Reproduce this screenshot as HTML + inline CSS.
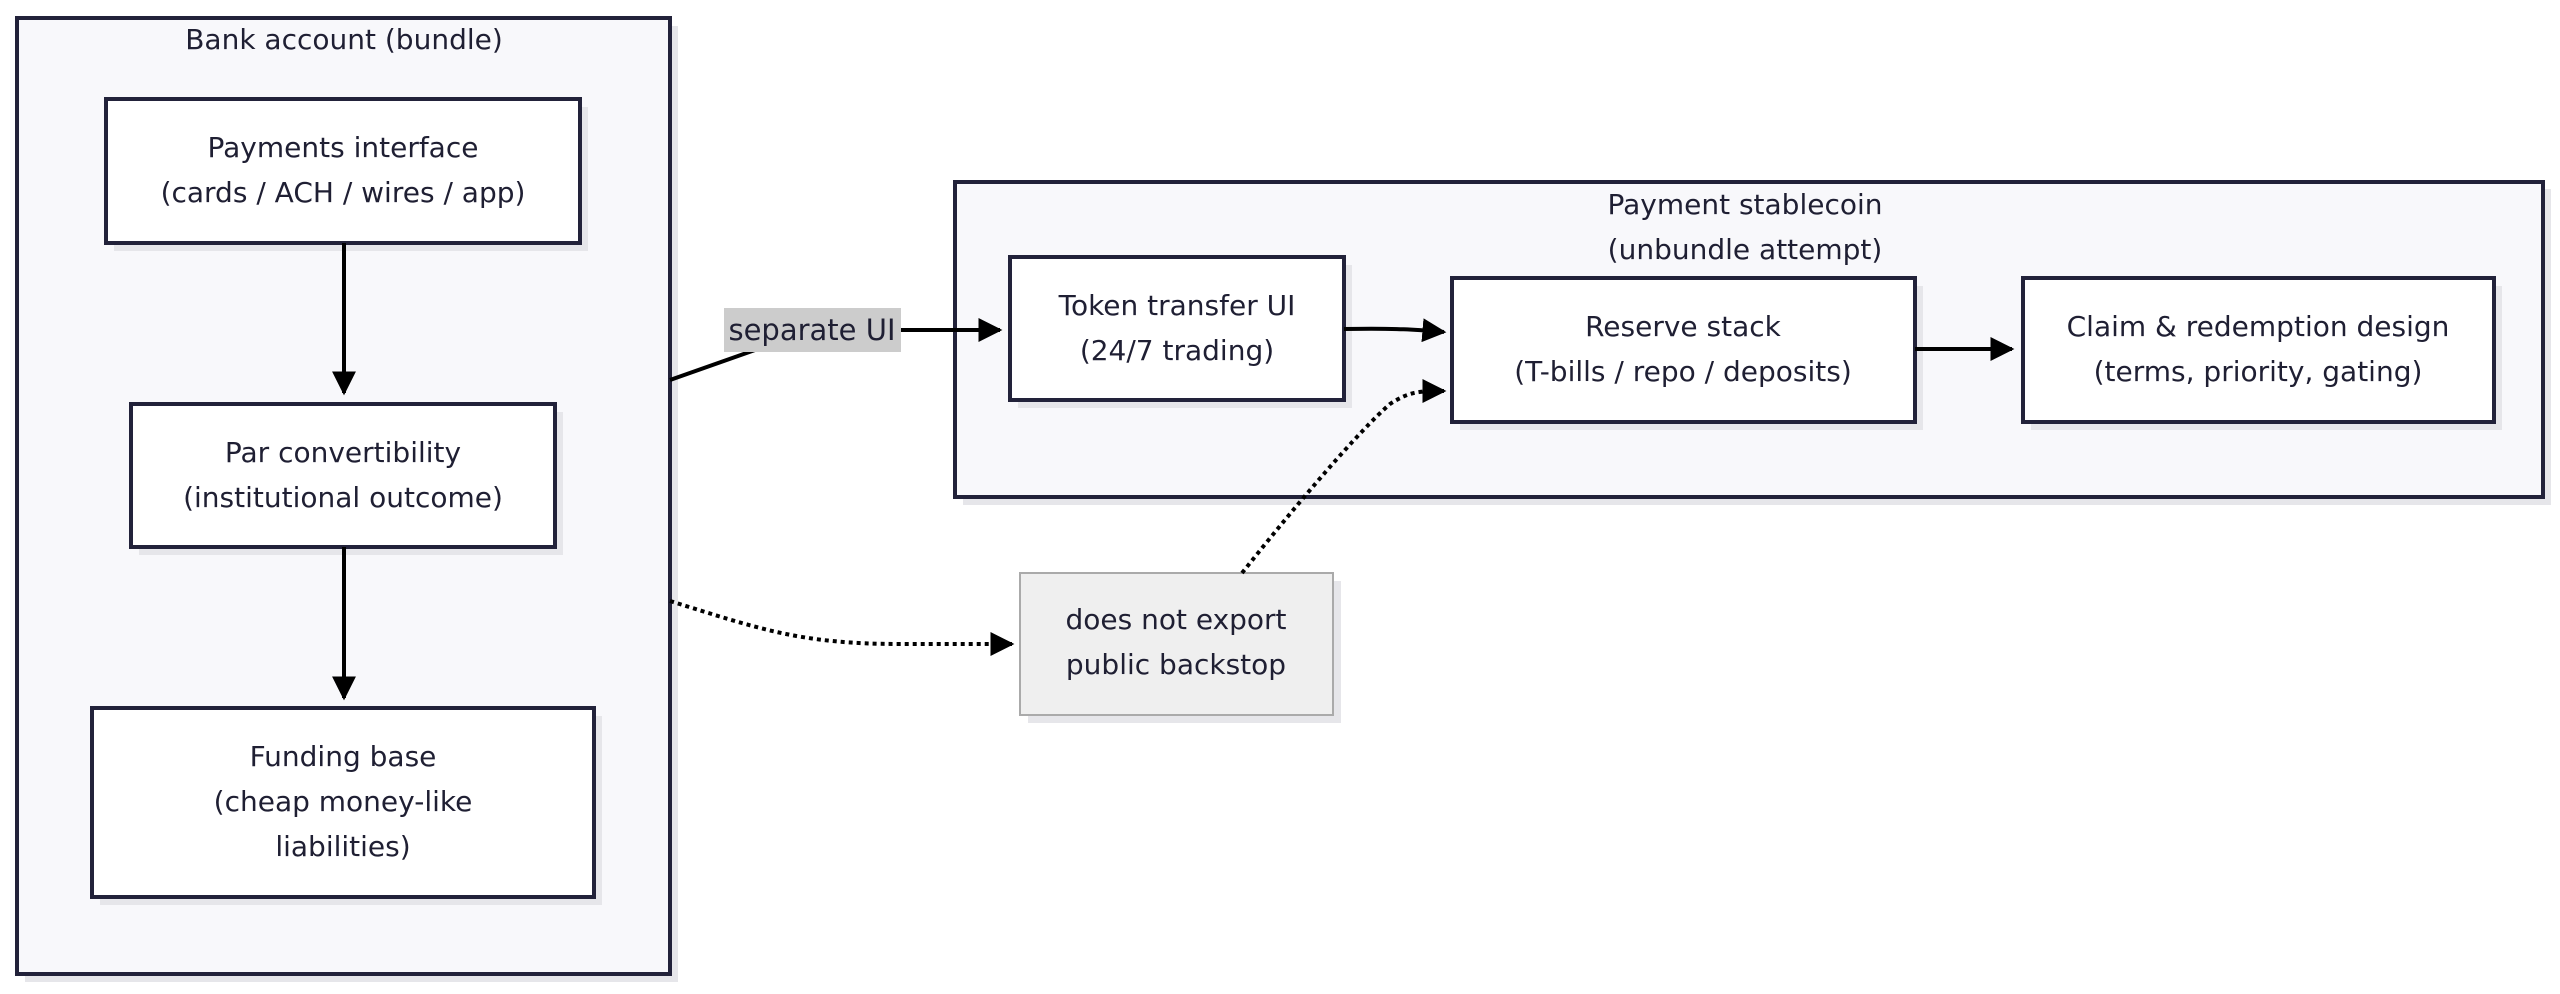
<!DOCTYPE html>
<html><head><meta charset="utf-8"><style>
html,body{margin:0;padding:0;background:#fff;}
svg{display:block;}
text{font-family:"DejaVu Sans","Liberation Sans",sans-serif;font-size:28px;fill:#1f1f33;text-anchor:middle;}
</style></head><body>
<svg width="2560" height="994" viewBox="0 0 2560 994" xmlns="http://www.w3.org/2000/svg">
<defs>
<marker id="a2" viewBox="0 0 10 10" refX="9" refY="5" markerWidth="24" markerHeight="24" orient="auto" markerUnits="userSpaceOnUse"><path d="M0,0 L10,5 L0,10 z" fill="#000"/></marker>
</defs>
<g fill="#e6e6ea">
<rect x="25" y="26" width="653" height="956"/>
<rect x="963" y="189" width="1588" height="316"/>
</g>
<rect x="17" y="18" width="653" height="956" fill="#f8f8fb" stroke="#22223a" stroke-width="4"/>
<rect x="955" y="182" width="1588" height="315" fill="#f8f8fb" stroke="#22223a" stroke-width="4"/>
<text x="344" y="49">Bank account (bundle)</text>
<text x="1745" y="214">Payment stablecoin</text>
<text x="1745" y="259">(unbundle attempt)</text>
<g fill="#e6e6ea">
<rect x="114" y="107" width="474" height="144"/>
<rect x="139" y="412" width="424" height="143"/>
<rect x="100" y="716" width="502" height="189"/>
<rect x="1018" y="265" width="334" height="143"/>
<rect x="1460" y="286" width="463" height="144"/>
<rect x="2031" y="286" width="471" height="144"/>
<rect x="1028" y="581" width="313" height="142"/>
</g>
<g fill="#fff" stroke="#22223a" stroke-width="4">
<rect x="106" y="99" width="474" height="144"/>
<rect x="131" y="404" width="424" height="143"/>
<rect x="92" y="708" width="502" height="189"/>
<rect x="1010" y="257" width="334" height="143"/>
<rect x="1452" y="278" width="463" height="144"/>
<rect x="2023" y="278" width="471" height="144"/>
</g>
<rect x="1020" y="573" width="313" height="142" fill="#efefef" stroke="#aaaaaa" stroke-width="2"/>
<text x="343" y="157">Payments interface</text>
<text x="343" y="202">(cards / ACH / wires / app)</text>
<text x="343" y="462">Par convertibility</text>
<text x="343" y="507">(institutional outcome)</text>
<text x="343" y="766">Funding base</text>
<text x="343" y="811">(cheap money-like</text>
<text x="343" y="856">liabilities)</text>
<text x="1177" y="315">Token transfer UI</text>
<text x="1177" y="360">(24/7 trading)</text>
<text x="1683" y="336">Reserve stack</text>
<text x="1683" y="381">(T-bills / repo / deposits)</text>
<text x="2258" y="336">Claim &amp; redemption design</text>
<text x="2258" y="381">(terms, priority, gating)</text>
<text x="1176" y="629">does not export</text>
<text x="1176" y="674">public backstop</text>
<g stroke="#000" stroke-width="4" fill="none">
<line x1="344" y1="243" x2="344" y2="393" marker-end="url(#a2)"/>
<line x1="344" y1="547" x2="344" y2="698" marker-end="url(#a2)"/>
<line x1="670" y1="380" x2="755" y2="350"/>
<line x1="900" y1="330" x2="1000" y2="330" marker-end="url(#a2)"/>
<path d="M1344,329 C1400,328 1420,330 1444,332" marker-end="url(#a2)"/>
<line x1="1915" y1="349" x2="2012" y2="349" marker-end="url(#a2)"/>
<path d="M670,601 C760,629 800,644 900,644 L1012,644" stroke-dasharray="4,4" marker-end="url(#a2)"/>
<path d="M1242,573 C1300,500 1360,430 1390,404 C1410,391 1420,391 1444,391" stroke-dasharray="4,4" marker-end="url(#a2)"/>
</g>
<rect x="724" y="308" width="177" height="44" fill="#cccccc"/>
<text x="812" y="340" style="font-size:29px">separate UI</text>
</svg>
</body></html>
